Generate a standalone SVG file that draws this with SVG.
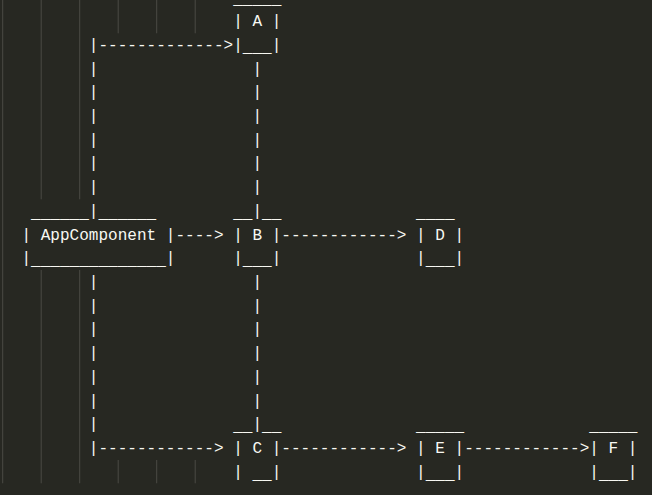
<svg xmlns="http://www.w3.org/2000/svg" width="652" height="495" viewBox="0 0 652 495" xml:space="preserve">
<style>
.t{font-family:"Liberation Mono","DejaVu Sans Mono",monospace;font-size:16.04px;fill:#f8f8f2;white-space:pre}
.g{stroke:#4a4a44;stroke-width:1}
</style>
<rect x="0" y="0" width="652" height="495" fill="#272822"/>
<g id="guides">
<line class="g" x1="2.7" y1="0" x2="2.7" y2="483.3"/>
<line class="g" x1="41.2" y1="0" x2="41.2" y2="199.3"/>
<line class="g" x1="41.2" y1="270" x2="41.2" y2="483.3"/>
<line class="g" x1="79.7" y1="0" x2="79.7" y2="199.3"/>
<line class="g" x1="79.7" y1="270" x2="79.7" y2="483.3"/>
<line class="g" x1="118.2" y1="0" x2="118.2" y2="33.3"/>
<line class="g" x1="118.2" y1="460" x2="118.2" y2="483.3"/>
<line class="g" x1="156.7" y1="0" x2="156.7" y2="33.3"/>
<line class="g" x1="156.7" y1="460" x2="156.7" y2="483.3"/>
<line class="g" x1="195.2" y1="0" x2="195.2" y2="33.3"/>
<line class="g" x1="195.2" y1="460" x2="195.2" y2="483.3"/>
</g>
<g id="connectors">
<text class="t" x="88.825" y="49.82">|</text>
<text class="t" x="98.45" y="49.82">-------------&gt;</text>
<text class="t" x="88.825"><tspan x="88.825" y="73.54">|</tspan><tspan x="88.825" y="97.26">|</tspan><tspan x="88.825" y="120.98">|</tspan><tspan x="88.825" y="144.7">|</tspan><tspan x="88.825" y="168.42">|</tspan><tspan x="88.825" y="192.14">|</tspan><tspan x="88.825" y="215.86">|</tspan></text>
<text class="t" x="88.825"><tspan x="88.825" y="287.02">|</tspan><tspan x="88.825" y="310.74">|</tspan><tspan x="88.825" y="334.46">|</tspan><tspan x="88.825" y="358.18">|</tspan><tspan x="88.825" y="381.9">|</tspan><tspan x="88.825" y="405.62">|</tspan><tspan x="88.825" y="429.34">|</tspan><tspan x="88.825" y="453.06">|</tspan></text>
<text class="t" x="252.45"><tspan x="252.45" y="73.54">|</tspan><tspan x="252.45" y="97.26">|</tspan><tspan x="252.45" y="120.98">|</tspan><tspan x="252.45" y="144.7">|</tspan><tspan x="252.45" y="168.42">|</tspan><tspan x="252.45" y="192.14">|</tspan><tspan x="252.45" y="215.86">|</tspan></text>
<text class="t" x="252.45"><tspan x="252.45" y="287.02">|</tspan><tspan x="252.45" y="310.74">|</tspan><tspan x="252.45" y="334.46">|</tspan><tspan x="252.45" y="358.18">|</tspan><tspan x="252.45" y="381.9">|</tspan><tspan x="252.45" y="405.62">|</tspan><tspan x="252.45" y="429.34">|</tspan></text>
<text class="t" x="175.45" y="239.58">----&gt;</text>
<text class="t" x="281.325" y="239.58">------------&gt;</text>
<text class="t" x="98.45" y="453.06">------------&gt;</text>
<text class="t" x="281.325" y="453.06">------------&gt;</text>
<text class="t" x="464.2" y="453.06">------------&gt;</text>
</g>
<g id="node-A">
<text class="t" x="233.2" y="4.38">_____</text>
<text class="t" x="233.2" y="26.1">| A |</text>
<text class="t" x="233.2" y="49.82">|<tspan dy="2">___</tspan><tspan dy="-2">|</tspan></text>
</g>
<g id="node-AppComponent">
<text class="t" x="31.075" y="217.86">______</text>
<text class="t" x="98.45" y="217.86">______</text>
<text class="t" x="21.45" y="239.58">| AppComponent |</text>
<text class="t" x="21.45" y="263.3">|<tspan dy="2">______________</tspan><tspan dy="-2">|</tspan></text>
</g>
<g id="node-B">
<text class="t" x="233.2" y="217.86">__</text>
<text class="t" x="262.075" y="217.86">__</text>
<text class="t" x="233.2" y="239.58">| B |</text>
<text class="t" x="233.2" y="263.3">|<tspan dy="2">___</tspan><tspan dy="-2">|</tspan></text>
</g>
<g id="node-D">
<text class="t" x="416.075" y="217.86">____</text>
<text class="t" x="416.075" y="239.58">| D |</text>
<text class="t" x="416.075" y="263.3">|<tspan dy="2">___</tspan><tspan dy="-2">|</tspan></text>
</g>
<g id="node-C">
<text class="t" x="233.2" y="431.34">__</text>
<text class="t" x="262.075" y="431.34">__</text>
<text class="t" x="233.2" y="453.06">| C |</text>
<text class="t" x="233.2" y="476.78">| <tspan dy="2">__</tspan><tspan dy="-2">|</tspan></text>
</g>
<g id="node-E">
<text class="t" x="416.075" y="431.34">_____</text>
<text class="t" x="416.075" y="453.06">| E |</text>
<text class="t" x="416.075" y="476.78">|<tspan dy="2">___</tspan><tspan dy="-2">|</tspan></text>
</g>
<g id="node-F">
<text class="t" x="589.325" y="431.34">_____</text>
<text class="t" x="589.325" y="453.06">| F |</text>
<text class="t" x="589.325" y="476.78">|<tspan dy="2">___</tspan><tspan dy="-2">|</tspan></text>
</g>
</svg>
